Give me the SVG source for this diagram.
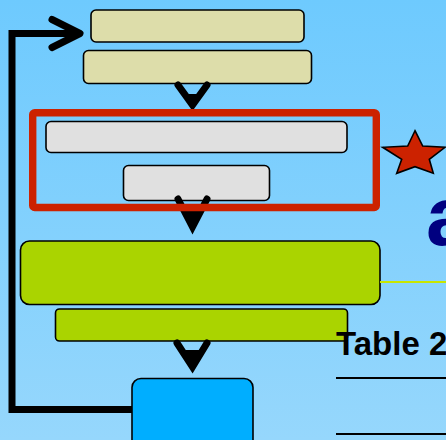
<svg xmlns="http://www.w3.org/2000/svg" width="446" height="440" viewBox="0 0 446 440">
  <defs>
    <linearGradient id="bg" x1="0" y1="0" x2="0" y2="1">
      <stop offset="0" stop-color="#6ECAFE"/>
      <stop offset="1" stop-color="#96D7FC"/>
    </linearGradient>
  </defs>
  <style>
    .box { stroke: #000; stroke-width: 1.6; }
    .tan { fill: #DDDDAA; }
    .gray { fill: #E0E0E0; }
    .green { fill: #AAD400; }
    .blue { fill: #00AEFF; }
    .conn { fill: none; stroke: #000; stroke-width: 7; }
    .vee { fill: none; stroke: #000; stroke-width: 7; stroke-linecap: round; stroke-linejoin: miter; }
    .tri { fill: #000; }
  </style>
  <rect x="0" y="0" width="446" height="440" fill="url(#bg)"/>

  <g id="tan1"><rect class="box tan" x="91" y="10" width="213" height="32" rx="5"/></g>
  <g id="tan2"><rect class="box tan" x="83.5" y="50.5" width="228" height="33" rx="5"/></g>
  <g id="gray1"><rect class="box gray" x="46" y="121.5" width="301" height="31" rx="5"/></g>
  <g id="gray2"><rect class="box gray" x="123.5" y="165.5" width="146" height="35" rx="5"/></g>
  <g id="green1"><rect class="box green" x="20.5" y="241" width="359.5" height="63.5" rx="9"/></g>
  <g id="green2"><rect class="box green" x="55.5" y="309" width="292" height="32" rx="4"/></g>
  <g id="blue1"><rect class="box blue" x="132" y="378.5" width="121" height="80" rx="9"/></g>

  <g id="connectors">
    <path class="vee" d="M178,85 L192.5,105 L207,85"/>
    <polygon class="tri" points="186,94 199,94 192.5,107"/>
    <path class="vee" d="M178,199 L192.5,227 L207,199"/>
    <polygon class="tri" points="180,206 205,206 192.5,230"/>
    <path class="vee" d="M177,343 L192.5,367 L207,343"/>
    <polygon class="tri" points="185,350 200,350 192.5,369"/>
    <polyline class="conn" points="132,409.5 12,409.5 12,33.5 78,33.5"/>
    <polyline class="conn" points="52,19.5 80,33.5 52,47.5" stroke-linecap="round" stroke-linejoin="round"/>
  </g>

  <g id="frame">
    <rect x="32.7" y="112.7" width="343.6" height="94.8" rx="2" fill="none" stroke="#CC2200" stroke-width="7.4"/>
  </g>

  <g id="star">
    <polygon points="415,130.7 422.7,146 445,147.3 429.3,159.3 433.3,173.3 415,166.7 396.7,173.3 401.7,159.3 382.7,147.3 407.7,146" fill="#CC2200" stroke="#000" stroke-width="1.6" stroke-linejoin="miter"/>
  </g>

  <text x="426" y="245" font-family="Liberation Sans, Arial, sans-serif" font-weight="bold" font-size="84" fill="#000080">a</text>
  <line x1="380" y1="282" x2="446" y2="282" stroke="#C8E600" stroke-width="2"/>
  <text x="336" y="354.5" font-family="Liberation Sans, Arial, sans-serif" font-weight="bold" font-size="33" fill="#000">Table 2</text>
  <line x1="336" y1="378" x2="446" y2="378" stroke="#000" stroke-width="2"/>
  <line x1="336" y1="434" x2="446" y2="434" stroke="#000" stroke-width="2"/>
</svg>
